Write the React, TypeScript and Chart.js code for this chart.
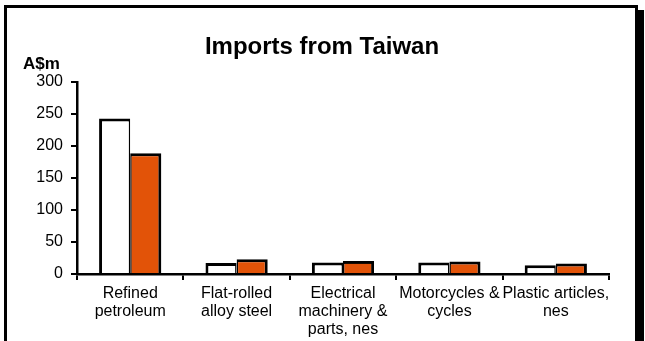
import React, { useEffect, useRef } from "react";
import { Chart, registerables } from "chart.js";

Chart.register(...registerables);

const categories: string[][] = [
  ["Refined", "petroleum"],
  ["Flat-rolled", "alloy steel"],
  ["Electrical", "machinery &", "parts, nes"],
  ["Motorcycles &", "cycles"],
  ["Plastic articles,", "nes"],
];
const seriesWhite = [243, 17, 18, 18, 13.5];
const seriesOrange = [188.5, 23, 20.5, 19.5, 16.5];
const yTicks = [0, 50, 100, 150, 200, 250, 300];
const titleText = "Imports from Taiwan";
const unitText = "A$m";

const FONT = "'Liberation Sans', Arial, sans-serif";

const framePlugin = {
  id: "frame",
  beforeDraw(chart: any) {
    const ctx = chart.ctx;
    ctx.save();
    ctx.fillStyle = "#ffffff";
    ctx.fillRect(0, 0, chart.width, chart.height);
    ctx.fillStyle = "#000000";
    ctx.fillRect(4, 5, 634, 3); // top
    ctx.fillRect(4, 5, 3, chart.height); // left
    ctx.fillRect(635, 5, 3, chart.height); // right
    ctx.fillRect(637, 10, 7, chart.height); // shadow
    ctx.restore();
  },
  afterDraw(chart: any) {
    const ctx = chart.ctx;
    ctx.save();
    ctx.fillStyle = "#000000";
    ctx.textAlign = "center";
    ctx.textBaseline = "alphabetic";
    ctx.font = `bold 24px ${FONT}`;
    ctx.fillText(titleText, 322, 54);
    ctx.textAlign = "left";
    ctx.font = `bold 17px ${FONT}`;
    ctx.fillText(unitText, 23, 69);
    ctx.restore();
  },
};

export default function App() {
  const ref = useRef<HTMLCanvasElement>(null);
  useEffect(() => {
    if (!ref.current) return;
    const chart = new Chart(ref.current, {
      type: "bar",
      data: {
        labels: categories,
        datasets: [
          {
            data: seriesWhite,
            backgroundColor: "#ffffff",
            borderColor: "#000000",
            borderWidth: { left: 3, top: 3, right: 1.5, bottom: 0 },
            borderSkipped: false,
            inflateAmount: 0,
            barPercentage: 1,
            categoryPercentage: 0.585,
          },
          {
            data: seriesOrange,
            backgroundColor: "#E25308",
            borderColor: "#000000",
            borderWidth: { left: 1.5, top: 3, right: 3, bottom: 0 },
            borderSkipped: false,
            inflateAmount: 0,
            barPercentage: 1,
            categoryPercentage: 0.585,
          },
        ],
      },
      options: {
        animation: false,
        responsive: false,
        maintainAspectRatio: false,
        layout: { padding: { top: 82, right: 36, bottom: 0, left: 0 } },
        plugins: {
          legend: { display: false },
          tooltip: { enabled: false },
          title: { display: false },
        },
        scales: {
          x: {
            offset: true,
            grid: {
              display: true,
              offset: true,
              drawOnChartArea: false,
              drawTicks: true,
              tickLength: 6,
              color: "#000000",
              lineWidth: 2,
            },
            border: { display: true, color: "#000000", width: 2.5 },
            ticks: {
              color: "#000000",
              font: { family: FONT, size: 16, lineHeight: 1.15 },
              padding: 4,
              maxRotation: 0,
              autoSkip: false,
            },
            afterFit(scale: any) {
              scale.height = 67;
            },
          },
          y: {
            min: 0,
            max: 300,
            afterBuildTicks(scale: any) {
              scale.ticks = yTicks.map((v) => ({ value: v }));
            },
            grid: {
              display: true,
              drawOnChartArea: false,
              drawTicks: true,
              tickLength: 6,
              color: "#000000",
              lineWidth: 2,
            },
            border: { display: true, color: "#000000", width: 2.5 },
            ticks: {
              color: "#000000",
              font: { family: FONT, size: 16 },
              padding: 8,
            },
            afterFit(scale: any) {
              scale.width = 77;
            },
          },
        },
      },
      plugins: [framePlugin],
    });
    return () => chart.destroy();
  }, []);
  return (
    <div style={{ position: "absolute", left: 0, top: 0, width: 645, height: 341, overflow: "hidden" }}>
      <canvas ref={ref} width={645} height={341} style={{ display: "block" }} />
    </div>
  );
}
